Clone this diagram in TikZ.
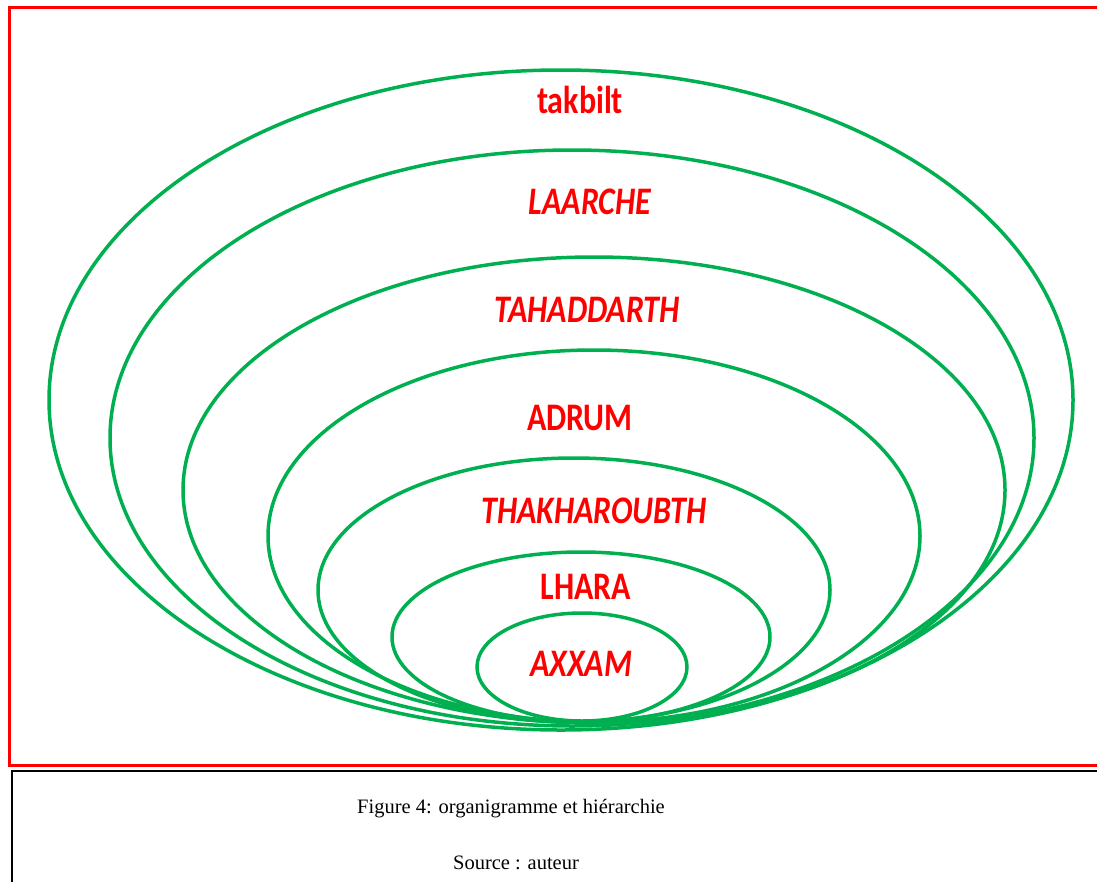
\documentclass[tikz,border=0pt]{standalone}
\usepackage{fontspec}
\setmainfont{Liberation Serif}
\newfontfamily\lblfont{Carlito}
\definecolor{ogreen}{RGB}{0,176,80}
\begin{document}
\begin{tikzpicture}[x=1pt,y=-1pt,
  ring/.style={draw=ogreen,line width=3.5pt},
  lab/.style={text=red,font=\lblfont\bfseries\fontsize{39}{39}\selectfont,xscale=0.82,inner sep=0pt,anchor=base},
  itlab/.style={lab,font=\lblfont\bfseries\itshape\fontsize{39}{39}\selectfont},
  captext/.style={font=\fontsize{20.5}{24}\selectfont,inner sep=0pt,anchor=base}]
\useasboundingbox (0,0) rectangle (1097,881);
\fill[white] (0,0) rectangle (1097,881);
% frames
\draw[red,line width=3pt] (9,7) rectangle (1115,765);
\draw[black,line width=2pt] (12,771) rectangle (1115,900);
% rings
\draw[ring] (561,400) ellipse [x radius=512,y radius=330];
\draw[ring] (572,438) ellipse [x radius=462,y radius=288];
\draw[ring] (594,490) ellipse [x radius=411,y radius=233];
\draw[ring] (594,536) ellipse [x radius=326,y radius=186];
\draw[ring] (574,590) ellipse [x radius=256,y radius=132];
\draw[ring] (581,637) ellipse [x radius=189,y radius=85];
\draw[ring] (582,667) ellipse [x radius=105,y radius=54];
% labels
\node[lab]   (takbilt) at (580,113) {takbilt};
\node[itlab] (laarche) at (590,214) {LAARCHE};
\node[itlab] (tahad)   at (587,322) {TAHADDARTH};
\node[lab]   (adrum)   at (580,430) {ADRUM};
\node[itlab] (thakh)   at (594,523) {THAKHAROUBTH};
\node[lab]   (lhara)   at (586,599) {LHARA};
\node[itlab] (axxam)   at (581,676) {AXXAM};
% caption
\node[captext] (fig) at (511,813) {Figure 4: organigramme et hiérarchie};
\node[captext] (src) at (516,869) {Source : auteur};
\end{tikzpicture}
\end{document}
